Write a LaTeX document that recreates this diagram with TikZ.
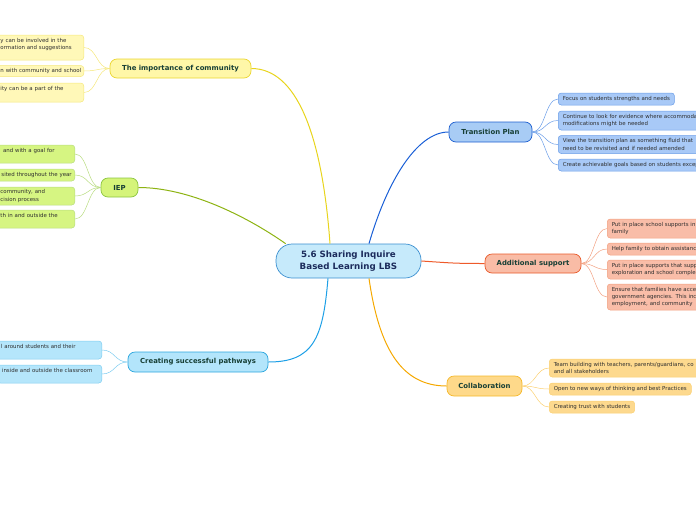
\documentclass[tikz,border=0pt]{standalone}
\usepackage{fontspec}
\setmainfont{DejaVu Sans}
\hbadness=10000 \hfuzz=20pt
\definecolor{rootfill}{HTML}{C6EAFB}
\definecolor{rootdraw}{HTML}{3A8FD0}
\definecolor{roottext}{HTML}{1C2C5C}
\definecolor{toptext}{HTML}{173F35}
\definecolor{subtext}{HTML}{2E2E2E}
\definecolor{yfill}{HTML}{FFF7A8}
\definecolor{ydraw}{HTML}{EBD530}
\definecolor{yline}{HTML}{E8D41C}
\definecolor{ysub}{HTML}{FFF8B8}
\definecolor{ysubd}{HTML}{F5E77A}
\definecolor{gfill}{HTML}{D5F47A}
\definecolor{gdraw}{HTML}{8CC63F}
\definecolor{gline}{HTML}{8DB312}
\definecolor{gsub}{HTML}{D6F582}
\definecolor{gsubd}{HTML}{B8DC80}
\definecolor{cfill}{HTML}{B3E5FB}
\definecolor{cdraw}{HTML}{2BA6DE}
\definecolor{cline}{HTML}{1EA0E6}
\definecolor{csub}{HTML}{B5E6FB}
\definecolor{csubd}{HTML}{7FCDF0}
\definecolor{bfill}{HTML}{A8CCF5}
\definecolor{bdraw}{HTML}{1E5FD0}
\definecolor{bline}{HTML}{1A5FD6}
\definecolor{bsub}{HTML}{A8C9F7}
\definecolor{bsubd}{HTML}{6A9DE8}
\definecolor{rfill}{HTML}{F9BCA6}
\definecolor{rdraw}{HTML}{E85A2A}
\definecolor{rline}{HTML}{EE5A2A}
\definecolor{rsub}{HTML}{F9BDA8}
\definecolor{rsubd}{HTML}{F2A080}
\definecolor{ofill}{HTML}{FED98A}
\definecolor{odraw}{HTML}{F5B82A}
\definecolor{oline}{HTML}{F5A800}
\definecolor{osub}{HTML}{FDD98E}
\definecolor{osubd}{HTML}{FBD070}
\begin{document}
\begin{tikzpicture}[x=1pt,y=-1pt,
  topic/.style={draw, rounded corners=7pt, line width=0.7pt, font=\fontsize{6.9}{8}\selectfont\bfseries, text=toptext, inner sep=0pt, minimum height=19pt},
  sub/.style={draw, rounded corners=3pt, line width=0.5pt, font=\fontsize{5.45}{7.4}\selectfont, text=subtext, align=left, inner xsep=4.5pt, inner ysep=0pt},
  subL/.style={sub, anchor=east, text width=78.75pt},
  subR/.style={sub, anchor=west},
  cut/.style={text width=190pt},
  branch/.style={line width=1pt},
  twig/.style={line width=0.5pt}
]
\useasboundingbox (0,0) rectangle (696,520);
\clip (0,0) rectangle (696,520);

% root
\node[draw=rootdraw, fill=rootfill, line width=0.7pt, rounded corners=16pt, minimum width=145pt, minimum height=34pt, inner sep=0pt, align=center, text=roottext, font=\fontsize{8.7}{12}\selectfont\bfseries] (root) at (348.5,261) {5.6 Sharing Inquire\\Based Learning LBS};

% topics
\node[topic, draw=ydraw, fill=yfill, minimum width=141pt] (comm) at (180.5,68.5) {The importance of community};
\node[topic, draw=gdraw, fill=gfill, minimum width=37pt] (iep) at (119.5,187.5) {IEP};
\node[topic, draw=cdraw, fill=cfill, minimum width=140pt, minimum height=20pt] (path) at (198,362) {Creating successful pathways};
\node[topic, draw=bdraw, fill=bfill, minimum width=83pt, minimum height=20pt] (trans) at (490.5,132) {Transition Plan};
\node[topic, draw=rdraw, fill=rfill, minimum width=96pt] (add) at (533,263.5) {Additional support};
\node[topic, draw=odraw, fill=ofill, minimum width=75pt, minimum height=20pt] (coll) at (484.5,386) {Collaboration};

% main branches
\draw[branch, yline] ([xshift=-18.5pt]root.north) .. controls +(-8,-110) and +(45,0) .. (comm.east);
\draw[branch, gline] ([xshift=10pt]root.north west) .. controls +(-40,-28) and +(50,0) .. (iep.east);
\draw[branch, bline] ([xshift=20.5pt]root.north) .. controls +(18,-62) and +(-32,0) .. (trans.west);
\draw[branch, rline] (root.east) .. controls +(30,2) and +(-30,0) .. (add.west);
\draw[branch, cline] ([xshift=-20.5pt]root.south) .. controls +(-5,60) and +(45,0) .. (path.east);
\draw[branch, oline] ([xshift=20.5pt]root.south) .. controls +(10,70) and +(-45,0) .. (coll.west);

% community children
\node[subL, draw=ysubd, fill=ysub, minimum height=25pt] (c1) at (84,47.5) {\mbox{y can be involved in the}\\\mbox{ormation and suggestions}\\\mbox{}};
\node[subL, draw=ysubd, fill=ysub, minimum height=11pt] (c2) at (84,71) {\mbox{n with community and school}};
\node[subL, draw=ysubd, fill=ysub, minimum height=19pt] (c3) at (84,92.5) {\mbox{ity can be a part of the}\\\mbox{}};
\foreach \n in {c1,c2,c3} \draw[twig, ysubd] (comm.west) .. controls +(-13,0) and +(13,0) .. (\n.east);

% IEP children
\node[subL, draw=gsubd, fill=gsub, minimum height=18pt, text width=69.75pt] (i1) at (75,154) {\mbox{\hspace{2.5pt}and with a goal for}\\\mbox{}};
\node[subL, draw=gsubd, fill=gsub, minimum height=12pt, text width=69.75pt] (i2) at (75,175) {\mbox{\hspace{1pt}sited throughout the year}};
\node[subL, draw=gsubd, fill=gsub, minimum height=18pt, text width=69.75pt] (i3) at (75,196) {\mbox{community, and}\\\mbox{cision process}};
\node[subL, draw=gsubd, fill=gsub, minimum height=18pt, text width=69.75pt] (i4) at (75,219) {\mbox{th in and outside the}\\\mbox{}};
\foreach \n in {i1,i2,i3,i4} \draw[twig, gsubd] (iep.west) .. controls +(-13,0) and +(13,0) .. (\n.east);

% pathways children
\node[subL, draw=csubd, fill=csub, minimum height=18pt, text width=96.25pt] (p1) at (102,350) {\mbox{l around students and their}\\\mbox{}};
\node[subL, draw=csubd, fill=csub, minimum height=18pt, text width=95.25pt] (p2) at (102,374) {\mbox{inside and outside the classroom}\\\mbox{}};
\foreach \n in {p1,p2} \draw[twig, csubd] (path.west) .. controls +(-13,0) and +(13,0) .. (\n.east);

% transition children
\node[subR, draw=bsubd, fill=bsub, minimum height=12pt] (t1) at (558,99) {Focus on students strengths and needs};
\node[subR, cut, draw=bsubd, fill=bsub, minimum height=19pt] (t2) at (558,120.5) {Continue to look for evidence where accommoda\\modifications might be needed};
\node[subR, cut, draw=bsubd, fill=bsub, minimum height=18pt] (t3) at (558,144.5) {View the transition plan as something fluid that\\need to be revisited and if needed amended};
\node[subR, cut, draw=bsubd, fill=bsub, minimum height=12pt] (t4) at (558,165) {Create achievable goals based on students excep};
\foreach \n in {t1,t2,t3,t4} \draw[twig, bsubd] (trans.east) .. controls +(13,0) and +(-13,0) .. (\n.west);

% additional support children
\node[subR, cut, draw=rsubd, fill=rsub, minimum height=19pt] (a1) at (607,228.5) {Put in place school supports in\\family};
\node[subR, cut, draw=rsubd, fill=rsub, minimum height=12pt] (a2) at (607,249) {Help family to obtain assistanc};
\node[subR, cut, draw=rsubd, fill=rsub, minimum height=19pt] (a3) at (607,269.5) {Put in place supports that supp\\exploration and school comple};
\node[subR, cut, draw=rsubd, fill=rsub, minimum height=26pt] (a4) at (607,297) {Ensure that families have acce\\government agencies. This inc\\employment, and community};
\foreach \n in {a1,a2,a3,a4} \draw[twig, rsubd] (add.east) .. controls +(13,0) and +(-13,0) .. (\n.west);

% collaboration children
\node[subR, cut, draw=osubd, fill=osub, minimum height=18pt] (k1) at (549,368) {Team building with teachers, parents/guardians, co\\and all stakeholders};
\node[subR, draw=osubd, fill=osub, minimum height=12pt] (k2) at (549,389) {Open to new ways of thinking and best Practices};
\node[subR, draw=osubd, fill=osub, minimum height=12pt] (k3) at (549,407) {Creating trust with students};
\foreach \n in {k1,k2,k3} \draw[twig, osubd] (coll.east) .. controls +(13,0) and +(-13,0) .. (\n.west);
\end{tikzpicture}
\end{document}
